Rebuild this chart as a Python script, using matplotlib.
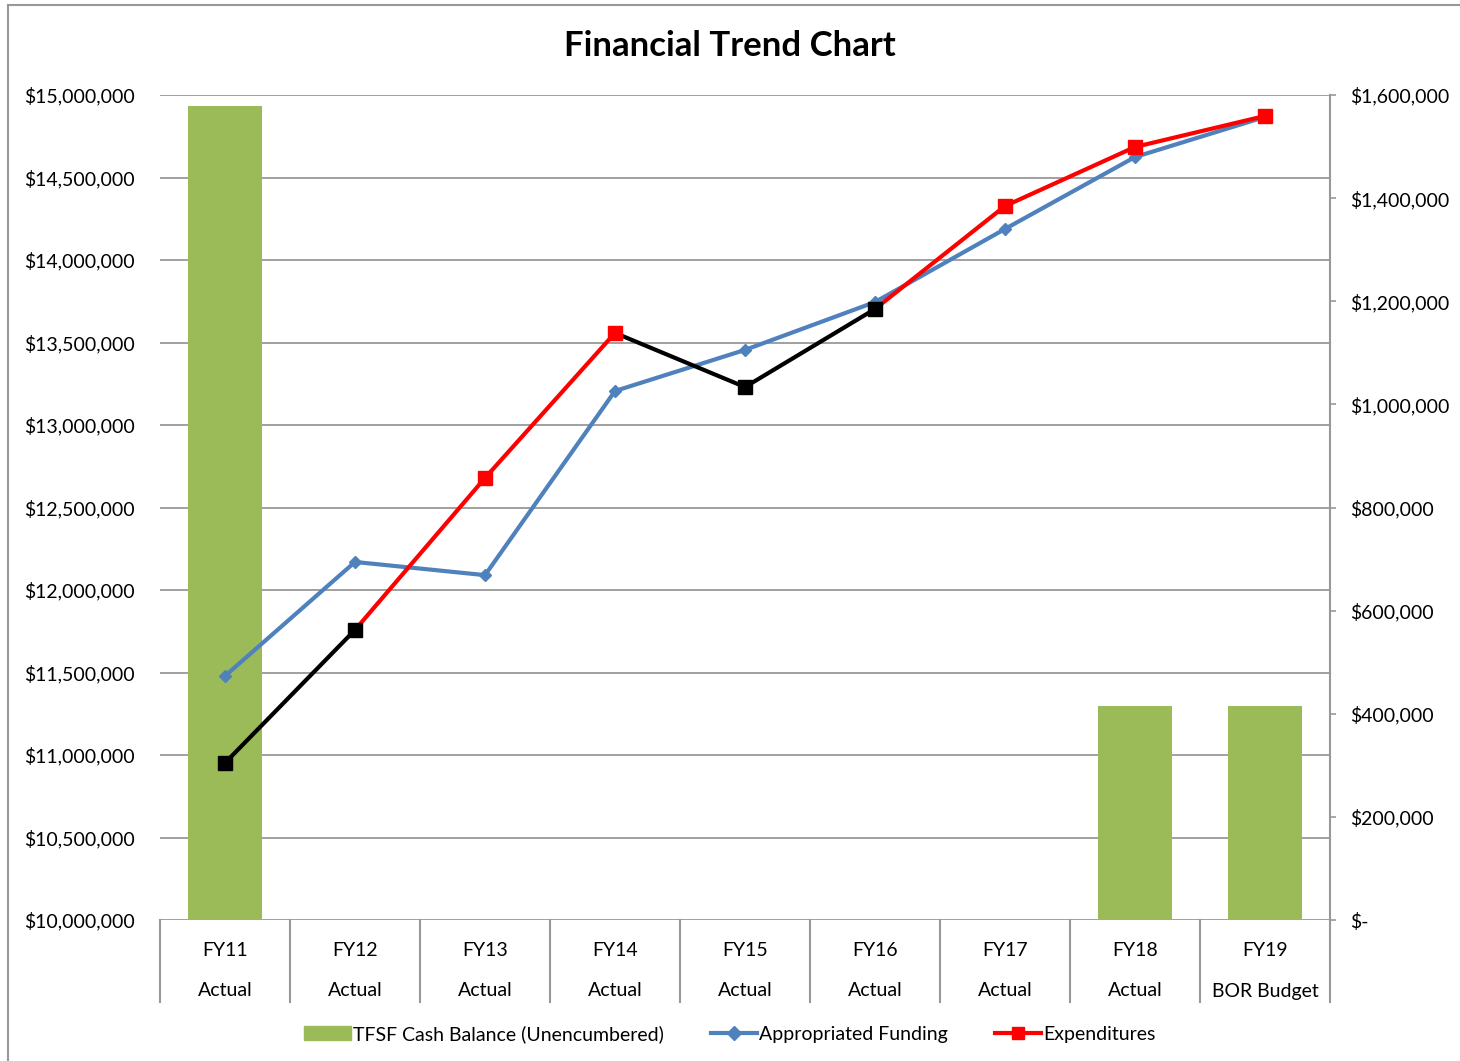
import numpy as np
import matplotlib as mpl
mpl.use('Agg')
import matplotlib.pyplot as plt
from matplotlib.lines import Line2D
from matplotlib.patches import Patch
from matplotlib.ticker import FuncFormatter
import matplotlib.transforms as mtransforms

plt.rcParams['font.family'] = ['Lato', 'DejaVu Sans']

years = ['FY11', 'FY12', 'FY13', 'FY14', 'FY15', 'FY16', 'FY17', 'FY18', 'FY19']
kinds = ['Actual'] * 8 + ['BOR Budget']
cash_balance = [1578000, 0, 0, 0, 0, 0, 0, 415000, 415000]
appropriated = [11479000, 12170000, 12090000, 13206000, 13455000,
                13745000, 14188000, 14624000, 14867000]
expenditures = [10952000, 11758000, 12679000, 13558000, 13230000,
                13703000, 14327000, 14685000, 14873000]

GREEN = '#9BBB59'
BLUE = '#4F81BD'
RED = '#FF0000'
GRID = '#989898'
FS = 14

fig = plt.figure(figsize=(14.6, 10.61), dpi=100)
ax = fig.add_axes([160 / 1460, 1 - 920 / 1061, 1170 / 1460, 825 / 1061])
ax2 = ax.twinx()
ax.set_zorder(ax2.get_zorder() + 1)
ax.patch.set_visible(False)

x = np.arange(len(years))

# bars on the right axis
ax2.bar(x, cash_balance, width=0.57, color=GREEN, zorder=2)
ax2.set_ylim(0, 1600000)
ax2.set_yticks(np.arange(0, 1600001, 200000))
ax2.yaxis.set_major_formatter(FuncFormatter(
    lambda v, p: '$-' if v == 0 else '${:,.0f}'.format(v)))
ax2.tick_params(axis='y', length=4.5, width=1.2, color=GRID, pad=10,
                labelsize=FS)

# left axis
ax.set_xlim(-0.5, len(years) - 0.5)
ax.set_ylim(10000000, 15000000)
left_ticks = np.arange(10000000, 15000001, 500000)
ax.set_yticks(left_ticks)
ax.yaxis.set_major_formatter(FuncFormatter(lambda v, p: '${:,.0f}'.format(v)))
ax.tick_params(axis='y', length=0, pad=18, labelsize=FS)
ax.set_xticks([])

# gridlines behind the bars, in left-axis units
for v in left_ticks:
    ax2.plot([0, 1], [v, v], transform=ax.get_yaxis_transform(),
             color=GRID, lw=1.3, zorder=0.5)

for a in (ax, ax2):
    for s in ('top', 'left', 'bottom'):
        a.spines[s].set_visible(False)
ax.spines['right'].set_visible(False)
ax2.spines['right'].set_color(GRID)
ax2.spines['right'].set_linewidth(1.5)

# category labels and separators
blend = mtransforms.blended_transform_factory(ax.transData, ax.transAxes)
sep_depth = (1002 - 920) / 825
for i in range(len(years) + 1):
    ax.plot([i - 0.5, i - 0.5], [0, -sep_depth], transform=blend,
            color=GRID, lw=1.5, clip_on=False)
for i, (yr, k) in enumerate(zip(years, kinds)):
    ax.text(i, -(950 - 920) / 825, yr, transform=blend, ha='center',
            va='center', fontsize=FS)
    ax.text(i, -(991 - 920) / 825, k, transform=blend, ha='center',
            va='center', fontsize=FS)

# appropriated funding
ax.plot(x, appropriated, color=BLUE, lw=3, marker='D', markersize=6,
        zorder=3)

# expenditures: black where below appropriated funding
colors = ['black' if e < a else RED
          for e, a in zip(expenditures, appropriated)]
for i in range(1, len(x)):
    ax.plot(x[i - 1:i + 1], expenditures[i - 1:i + 1], color=colors[i],
            lw=3, zorder=4, solid_capstyle='butt')
for i in range(len(x)):
    ax.plot(x[i], expenditures[i], marker='s', markersize=10,
            color=colors[i], zorder=5)

fig.text(0.5, 1 - 46 / 1061, 'Financial Trend Chart', ha='center',
         va='center', fontsize=25, fontweight='bold')

handles = [
    Patch(color=GREEN, label='TFSF Cash Balance (Unencumbered)'),
    Line2D([], [], color=BLUE, lw=3, marker='D', markersize=7,
           label='Appropriated Funding'),
    Line2D([], [], color=RED, lw=3, marker='s', markersize=9,
           label='Expenditures'),
]
fig.legend(handles=handles, loc='center', bbox_to_anchor=(0.5, 1 - 1034 / 1061),
           ncol=3, frameon=False, fontsize=FS, handlelength=2.4,
           handletextpad=0.1, columnspacing=2.4)

# chart border (left and top edges)
fig.add_artist(Line2D([8 / 1460, 8 / 1460], [0, 1 - 5 / 1061],
                      transform=fig.transFigure, color=GRID, lw=1.5))
fig.add_artist(Line2D([8 / 1460, 1], [1 - 5 / 1061, 1 - 5 / 1061],
                      transform=fig.transFigure, color=GRID, lw=1.5))

fig.savefig('out.png', dpi=100)
